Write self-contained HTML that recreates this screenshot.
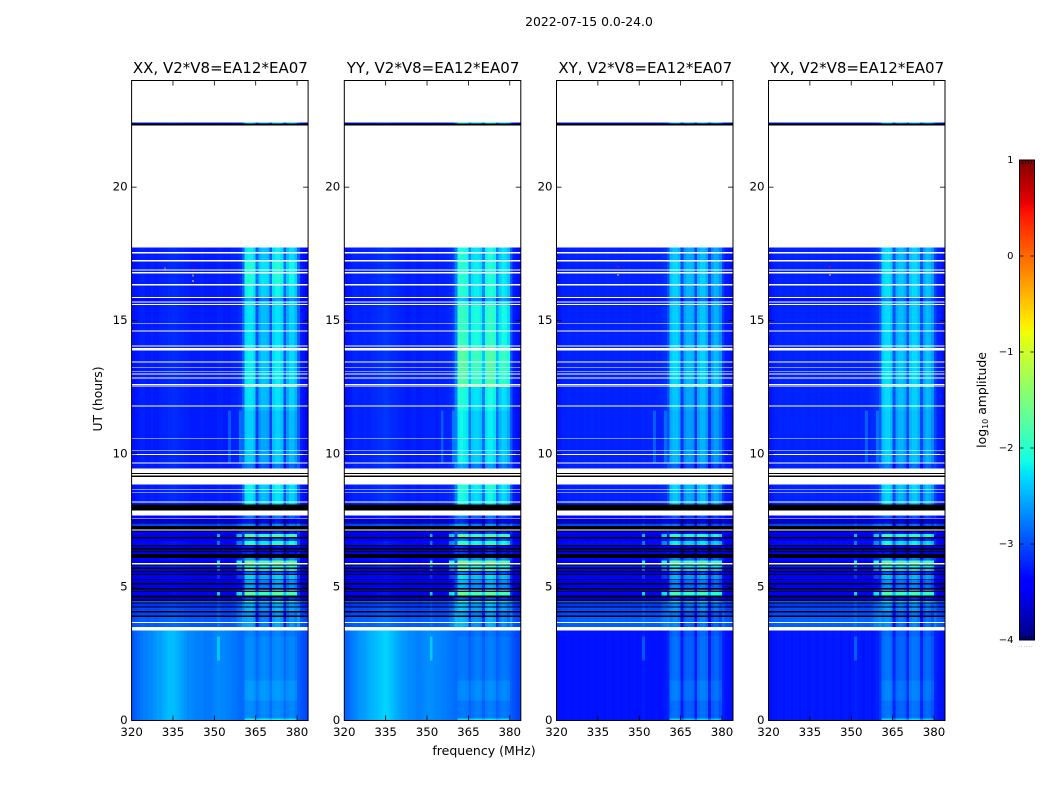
<!DOCTYPE html>
<html lang="en">
<head>
<meta charset="utf-8">
<title>2022-07-15 waterfall</title>
<style>
html,body{margin:0;padding:0;background:#fff;}
svg{display:block;}
text{font-family:"DejaVu Sans","Liberation Sans",sans-serif;fill:#000;}
</style>
</head>
<body>
<svg id="chart" width="1050" height="800" viewBox="0 0 1050 800" xmlns="http://www.w3.org/2000/svg">
  <text x="589" y="26" font-size="12.4" text-anchor="middle">2022-07-15 0.0-24.0</text>
  <text x="484" y="755" font-size="12.5" text-anchor="middle">frequency (MHz)</text>
  <text transform="translate(102,399) rotate(-90)" font-size="12.4" text-anchor="middle">UT (hours)</text>
  <text transform="translate(986,400) rotate(-90)" font-size="12.4" text-anchor="middle">log<tspan font-size="8" dy="2">10</tspan><tspan dy="-2"> amplitude</tspan></text>
  <g id="panels"></g>
  <g id="colorbar"></g>
</svg>
<script>
// ---------- axis ticks ----------
const freqTicks = [335, 350, 365, 380];
const freqLabels = [320, 335, 350, 365, 380];
const hourTicks = [0, 5, 10, 15, 20];
const colorTicks = [1, 0, -1, -2, -3, -4];
const polNames = ['XX', 'YY', 'XY', 'YX'];
const baselineName = 'V2*V8=EA12*EA07';

// ---------- time rows (start hour; each row ends where the next begins) ----------
const rowStart = [0,0.075,0.75,1.5,2.25,3.15,3.375,3.5,3.65,3.69,3.89,3.93,4.05,4.1,4.24,4.28,4.38,4.43,4.49,4.53,4.62,4.68,4.82,4.86,4.92,4.96,5.1,5.15,5.28,5.31,5.46,5.5,5.56,5.6,5.69,5.73,5.81,5.85,5.9,6,6.09,6.25,6.31,6.36,6.42,6.46,6.54,6.59,6.74,6.82,6.89,7,7.09,7.13,7.17,7.29,7.38,7.4,7.58,7.6,7.69,7.88,8.1,8.175,8.21,8.55,8.57,8.64,8.66,8.85,9.14,9.19,9.24,9.28,9.45,9.64,9.68,9.96,9.99,10.1,10.13,10.55,10.58,11.63,11.78,11.81,12.5,12.525,12.57,12.61,12.83,12.87,12.98,13.02,13.06,13.095,13.21,13.245,13.43,13.47,13.875,13.97,14.02,14.055,14.595,14.63,14.86,14.895,15.58,15.62,15.68,15.72,15.84,15.88,16.32,16.36,16.77,16.81,16.88,16.92,17.22,17.26,17.52,17.56,17.74,22.32,22.39,22.43];
const rowKind = ['q','q','q','q','Q','q','w','s','w','s','k','s','k','s','k','s','k','s','k','s','k','s','k','s','k','s','k','s','k','s','k','s','k','s','k','s','k','w','s','s','k','s','k','s','k','s','k','s','s','k','s','s','k','w','k','s','k','s','w','s','w','k','u','w','u','w','u','w','u','w','k','w','k','w','u','w','L','w','L','w','L','w','L','u','w','u','w','u','w','u','w','u','w','u','w','u','w','u','w','u','w','u','w','u','w','u','w','u','w','u','w','u','w','u','w','u','w','u','w','u','w','u','w','u','w','k','u','w'];
const rowLevel = [0,0,0,0,0,0,0,.3,0,.3,0,.2,0,.2,0,.1,0,.3,0,-.1,0,.05,0,0,0,-.1,0,-.1,0,0,0,-.2,0,0,0,.2,0,0,0,.1,0,-.1,0,-.2,0,-.2,0,.1,0,0,-.1,0,0,0,0,.4,0,-.2,0,.1,0,0,0,0,0,0,0,0,0,0,0,0,0,0,0,0,0,0,0,0,0,0,0,0,0,0,0,0,0,0,0,0,0,0,0,0,0,0,0,0,0,0,0,0,0,0,0,0,0,0,0,-.1,0,0,0,0,0,0,0,0,0,0,0,0,0,0,0,0];
const rowBand = [.5,0,.08,0,0,-.05,0,-.6,0,-.6,0,-.6,0,-.4,0,-.4,0,-.2,0,-.4,0,.75,0,0,0,0,0,0,0,.15,0,-.2,0,.35,0,.35,0,0,.9,-.2,0,-.6,0,-.6,0,-.6,0,.35,-.4,0,.75,-.6,0,0,0,-.6,0,-.6,0,-.4,0,0,0,0,0,0,0,0,.1,0,0,0,0,0,-.4,0,0,0,0,0,0,0,0,0,0,0,0,.6,0,0,0,0,0,0,0,0,0,0,0,0,0,0,0,0,0,0,0,0,0,0,0,-.3,0,0,0,0,0,0,0,0,0,0,0,0,0,0,0,0];

// ---------- stripe-zone dimming above this hour ----------
const stripeDimFromHour = 4.5;
const stripeDim = -0.22;

// ---------- spectral band / line features (MHz) ----------
const bandFirstMHz = 361;
const bandLastMHz = 380;
const lineChannels = [351, 358, 359];
const quietLineChannels = [351];
const upperLineChannels = [355, 359];

// ---------- band brightening by hour, 8h..17h ----------
const bandHourXX = [0, -.1, -.1, 0, .05, .05, 0, .1, .2, .05];
const bandHourYY = [.05, 0, 0, .1, .4, .45, .25, .15, .15, .1];
const bandHourXY = [0, -.05, -.05, 0, .1, .1, .05, .05, .1, 0];
const bandHourYX = [0, 0, 0, .05, .1, .1, .05, .1, .1, .05];

// ---------- log10 amplitude per 1 MHz channel, 320..383 ----------
const upperXX = [-3.3,-3.28,-3.25,-3.22,-3.22,-3.25,-3.25,-3.22,-3.25,-3.25,-3.22,-3.2,-3.2,-3.18,-3.18,-3.15,-3.18,-3.2,-3.2,-3.22,-3.22,-3.25,-3.25,-3.25,-3.25,-3.22,-3.25,-3.25,-3.25,-3.25,-3.25,-3.22,-3.22,-3.25,-3.25,-3.25,-3.22,-3.22,-3.2,-3.15,-2.9,-2.3,-2.25,-2.25,-2.35,-3,-2.55,-2.45,-2.45,-2.5,-3,-2.35,-2.25,-2.25,-2.35,-3,-2.55,-2.35,-2.35,-2.5,-2.9,-3.25,-3.3,-3.35];
const upperYY = [-3.3,-3.27,-3.25,-3.2,-3.2,-3.22,-3.22,-3.2,-3.22,-3.2,-3.18,-3.18,-3.15,-3.15,-3.12,-3.12,-3.15,-3.18,-3.18,-3.2,-3.22,-3.22,-3.25,-3.25,-3.22,-3.22,-3.25,-3.25,-3.22,-3.22,-3.22,-3.22,-3.22,-3.25,-3.22,-3.22,-3.22,-3.2,-3.18,-3.1,-2.75,-2.2,-2.15,-2.2,-2.25,-2.8,-2.4,-2.35,-2.35,-2.45,-2.85,-2.3,-2.2,-2.2,-2.3,-2.85,-2.5,-2.35,-2.4,-2.55,-2.95,-3.25,-3.3,-3.32];
const upperXY = [-3.28,-3.25,-3.22,-3.22,-3.2,-3.22,-3.22,-3.2,-3.22,-3.22,-3.2,-3.22,-3.2,-3.2,-3.22,-3.2,-3.22,-3.22,-3.2,-3.22,-3.22,-3.2,-3.22,-3.22,-3.2,-3.22,-3.2,-3.22,-3.22,-3.22,-3.22,-3.2,-3.22,-3.2,-3.22,-3.22,-3.2,-3.2,-3.18,-3.15,-3,-2.5,-2.4,-2.4,-2.5,-3.1,-2.65,-2.55,-2.55,-2.6,-3.1,-2.55,-2.45,-2.45,-2.6,-3.1,-2.7,-2.55,-2.6,-2.75,-3.1,-3.25,-3.27,-3.3];
const upperYX = [-3.28,-3.25,-3.22,-3.2,-3.2,-3.22,-3.2,-3.2,-3.22,-3.2,-3.2,-3.2,-3.2,-3.2,-3.22,-3.2,-3.2,-3.22,-3.2,-3.22,-3.2,-3.2,-3.22,-3.2,-3.2,-3.22,-3.2,-3.22,-3.2,-3.22,-3.2,-3.2,-3.22,-3.2,-3.2,-3.22,-3.2,-3.18,-3.15,-3.12,-2.95,-2.45,-2.35,-2.35,-2.45,-3.05,-2.6,-2.5,-2.5,-2.6,-3.05,-2.5,-2.4,-2.4,-2.55,-3.05,-2.65,-2.5,-2.55,-2.7,-3.05,-3.22,-3.25,-3.3];
const quietXX = [-2.95,-2.9,-2.85,-2.8,-2.75,-2.75,-2.7,-2.7,-2.65,-2.6,-2.6,-2.55,-2.5,-2.45,-2.45,-2.45,-2.5,-2.55,-2.6,-2.65,-2.7,-2.7,-2.72,-2.75,-2.75,-2.75,-2.78,-2.78,-2.78,-2.75,-2.72,-2.7,-2.72,-2.72,-2.75,-2.75,-2.78,-2.8,-2.82,-2.85,-2.85,-2.72,-2.68,-2.68,-2.72,-2.85,-2.75,-2.7,-2.7,-2.72,-2.85,-2.72,-2.68,-2.68,-2.72,-2.85,-2.75,-2.72,-2.72,-2.78,-2.9,-2.95,-3,-3.05];
const quietYY = [-2.9,-2.85,-2.8,-2.75,-2.7,-2.65,-2.62,-2.6,-2.55,-2.5,-2.48,-2.45,-2.42,-2.38,-2.35,-2.35,-2.4,-2.45,-2.5,-2.55,-2.6,-2.62,-2.65,-2.7,-2.7,-2.72,-2.75,-2.75,-2.72,-2.7,-2.68,-2.68,-2.7,-2.72,-2.72,-2.75,-2.75,-2.78,-2.8,-2.82,-2.85,-2.8,-2.78,-2.78,-2.8,-2.9,-2.82,-2.78,-2.75,-2.78,-2.9,-2.78,-2.75,-2.75,-2.78,-2.9,-2.82,-2.78,-2.78,-2.82,-2.92,-2.98,-3.02,-3.05];
const quietXY = [-3.32,-3.3,-3.3,-3.28,-3.28,-3.3,-3.28,-3.28,-3.3,-3.28,-3.28,-3.3,-3.28,-3.28,-3.3,-3.28,-3.28,-3.3,-3.28,-3.28,-3.3,-3.28,-3.28,-3.3,-3.28,-3.28,-3.3,-3.28,-3.28,-3.3,-3.28,-3.25,-3.28,-3.28,-3.3,-3.28,-3.28,-3.3,-3.28,-3.25,-3.2,-2.88,-2.82,-2.82,-2.88,-3.25,-2.95,-2.9,-2.9,-2.95,-3.25,-2.88,-2.82,-2.82,-2.88,-3.25,-2.95,-2.88,-2.9,-3,-3.22,-3.28,-3.3,-3.32];
const quietYX = [-3.3,-3.28,-3.28,-3.25,-3.25,-3.28,-3.25,-3.25,-3.28,-3.25,-3.25,-3.28,-3.25,-3.25,-3.28,-3.25,-3.25,-3.28,-3.25,-3.25,-3.28,-3.25,-3.25,-3.28,-3.25,-3.25,-3.28,-3.25,-3.25,-3.28,-3.25,-3.22,-3.25,-3.25,-3.28,-3.25,-3.25,-3.28,-3.25,-3.22,-3.1,-2.85,-2.8,-2.8,-2.85,-3.2,-2.92,-2.88,-2.88,-2.92,-3.2,-2.85,-2.8,-2.8,-2.85,-3.2,-2.92,-2.85,-2.88,-2.98,-3.2,-3.25,-3.28,-3.3];

// ---------- isolated hot samples ----------
const hotPol = [0, 0, 0, 0, 2, 2, 3, 3];
const hotFreq = [342.3, 342.3, 342.3, 332.2, 342.3, 342.3, 342.3, 342.3];
const hotHour = [16.95, 16.68, 16.48, 16.95, 17, 16.7, 17, 16.7];
const hotValue = [0.8, -1, -1, -0.2, 0.5, -0.6, 0.5, -0.6];

// ---------- layout ----------
const panelLeft = [131.6, 344.3, 556.5, 768.5];
const panelWidth = 176.5;
const plotTop = 80.5;
const plotBottom = 720.5;
const freqMin = 320, freqMax = 384, hourMin = 0, hourMax = 24;
const colorMin = -4, colorMax = 1;
const barLeft = 1019.5, barRight = 1034.5, barTop = 160, barBottom = 640;

const upperProfiles = [upperXX, upperYY, upperXY, upperYX];
const quietProfiles = [quietXX, quietYY, quietXY, quietYX];
const bandHours = [bandHourXX, bandHourYY, bandHourXY, bandHourYX];

const SVG_NS = 'http://www.w3.org/2000/svg';
const xScale = (left, f) => left + (f - freqMin) * panelWidth / (freqMax - freqMin);
const yScale = h => plotBottom - (h - hourMin) * (plotBottom - plotTop) / (hourMax - hourMin);
const colorY = v => barBottom - (v - colorMin) * (barBottom - barTop) / (colorMax - colorMin);

function interp(stops, t) {
  for (let i = 1; i < stops.length; i++) {
    if (t <= stops[i][0]) {
      const a = stops[i - 1], b = stops[i];
      return a[1] + (b[1] - a[1]) * (t - a[0]) / (b[0] - a[0]);
    }
  }
  return stops[stops.length - 1][1];
}
const jetR = [[0,0],[.35,0],[.66,1],[.89,1],[1,.5]];
const jetG = [[0,0],[.125,0],[.375,1],[.64,1],[.91,0],[1,0]];
const jetB = [[0,.5],[.11,1],[.34,1],[.65,0],[1,0]];
function jet(v) {
  const t = Math.max(0, Math.min(1, (v - colorMin) / (colorMax - colorMin)));
  const c = s => Math.round(255 * interp(s, t));
  return 'rgb(' + c(jetR) + ',' + c(jetG) + ',' + c(jetB) + ')';
}
function node(parent, tag, attrs, text) {
  const el = document.createElementNS(SVG_NS, tag);
  for (const k in attrs) el.setAttribute(k, attrs[k]);
  if (text !== undefined) el.textContent = text;
  parent.appendChild(el);
  return el;
}
function cellValue(kind, p, f, level, band) {
  const ch = f - freqMin;
  const inBand = f >= bandFirstMHz && f < bandLastMHz;
  if (kind === 'q' || kind === 'Q') {
    let v = quietProfiles[p][ch] + level + (inBand ? band : 0);
    if (kind === 'Q' && quietLineChannels.indexOf(f) >= 0) v += 0.3;
    return v;
  }
  return upperProfiles[p][ch] + level + (inBand ? band : 0);
}

const panelsGroup = document.getElementById('panels');
polNames.forEach(function (pol, p) {
  const left = panelLeft[p];
  const right = left + panelWidth;
  const g = node(panelsGroup, 'g', {});
  
  

  const title = node(g, 'text', { x: left + panelWidth / 2 + 0.5, y: 73, 'font-size': 15, 'text-anchor': 'middle' }, pol + ', ' + baselineName);
  
  

  const heat = node(g, 'g', { 'shape-rendering': 'crispEdges' });
  
  

  rowStart.forEach(function (h0, r) {
    const h1 = r + 1 < rowStart.length ? rowStart[r + 1] : hourMax;
    const kind = rowKind[r];
    if (kind === 'w') return;
    const y0 = yScale(h1), y1 = yScale(h0);
    if (kind === 'k') {
      const bar = node(heat, 'rect', { x: left, y: y0, width: panelWidth, height: y1 - y0, fill: '#000' });
      
      
      return;
    }
    for (let f = freqMin; f < freqMax; f++) {
      let band = rowBand[r];
      let level = rowLevel[r];
      if (kind === 'u' || kind === 'L') {
        const idx = Math.max(0, Math.min(9, Math.floor(h0) - 8));
        band += bandHours[p][idx];
      }
      if (kind === 's' && h0 >= stripeDimFromHour) level += stripeDim;
      let v = cellValue(kind, p, f, level, band);
      if (kind === 's' && lineChannels.indexOf(f) >= 0) v += 0.1 + 1.3 * Math.max(0, rowBand[r]);
      if (kind === 'L' && upperLineChannels.indexOf(f) >= 0) v += 0.3;
      const x0 = xScale(left, f), x1 = xScale(left, f + 1);
      const cell = node(heat, 'rect', { x: x0, y: y0, width: x1 - x0, height: y1 - y0, fill: jet(v) });
      
      
    }
  });

  hotPol.forEach(function (hp, i) {
    if (hp !== p) return;
    const hot = node(heat, 'rect', { x: xScale(left, hotFreq[i]) - 0.5, y: yScale(hotHour[i]) - 1, width: 1, height: 2, fill: jet(hotValue[i]) });
    
    
  });

  const frame = node(g, 'rect', { x: left, y: plotTop, width: panelWidth, height: plotBottom - plotTop, fill: 'none', stroke: '#000', 'stroke-width': 1 });
  
  

  freqTicks.forEach(function (f) {
    const x = xScale(left, f);
    const tb = node(g, 'line', { x1: x, x2: x, y1: plotBottom, y2: plotBottom - 5, stroke: '#000', 'stroke-width': 0.8 });
    
    
    const tt = node(g, 'line', { x1: x, x2: x, y1: plotTop, y2: plotTop + 5, stroke: '#000', 'stroke-width': 0.8 });
    
    
  });
  freqLabels.forEach(function (f) {
    const lab = node(g, 'text', { x: xScale(left, f), y: 736, 'font-size': 11.8, 'text-anchor': 'middle' }, String(f));
    
    
  });
  hourTicks.forEach(function (h) {
    const y = yScale(h);
    if (h > 0) {
      const tl = node(g, 'line', { x1: left, x2: left + 5, y1: y, y2: y, stroke: '#000', 'stroke-width': 0.8 });
      
      
      const tr = node(g, 'line', { x1: right, x2: right - 5, y1: y, y2: y, stroke: '#000', 'stroke-width': 0.8 });
      
      
    }
    const lab = node(g, 'text', { x: left - 4, y: y + 3.5, 'font-size': 11.8, 'text-anchor': 'end' }, String(h));
    
    
  });
});

// ---------- colorbar ----------
const cbGroup = document.getElementById('colorbar');
const ramp = node(cbGroup, 'g', { 'shape-rendering': 'crispEdges' });


for (let v = colorMin; v < colorMax; v += 0.02) {
  const seg = node(ramp, 'rect', { x: barLeft, y: colorY(v + 0.02), width: barRight - barLeft, height: colorY(v) - colorY(v + 0.02), fill: jet(v + 0.01) });
  
  
}
const cbFrame = node(cbGroup, 'rect', { x: barLeft, y: barTop, width: barRight - barLeft, height: barBottom - barTop, fill: 'none', stroke: '#000', 'stroke-width': 1 });


colorTicks.forEach(function (v) {
  const y = colorY(v);
  const a = node(cbGroup, 'line', { x1: barLeft, x2: barLeft + 4, y1: y, y2: y, stroke: '#000', 'stroke-width': 0.8 });
  
  
  const b = node(cbGroup, 'line', { x1: barRight, x2: barRight - 4, y1: y, y2: y, stroke: '#000', 'stroke-width': 0.8 });
  
  
  const lab = node(cbGroup, 'text', { x: barLeft - 6, y: y + 3, 'font-size': 10, 'text-anchor': 'end' }, String(v).replace('-', '\u2212'));
  
  
});
for (let i = 1; i < 5; i++) {
  const x = barLeft + i * (barRight - barLeft) / 5;
  const mt = node(cbGroup, 'line', { x1: x, x2: x, y1: barTop, y2: barTop + 4, stroke: '#000', 'stroke-width': 0.7 });
  
  
  const mb = node(cbGroup, 'line', { x1: x, x2: x, y1: barBottom, y2: barBottom - 4, stroke: '#000', 'stroke-width': 0.7 });
  
  
}
const dots = node(cbGroup, 'text', { x: 1026, y: 647, 'font-size': 5, 'text-anchor': 'middle', style: 'fill:#777;letter-spacing:1px' }, '......');


</script>
</body>
</html>
